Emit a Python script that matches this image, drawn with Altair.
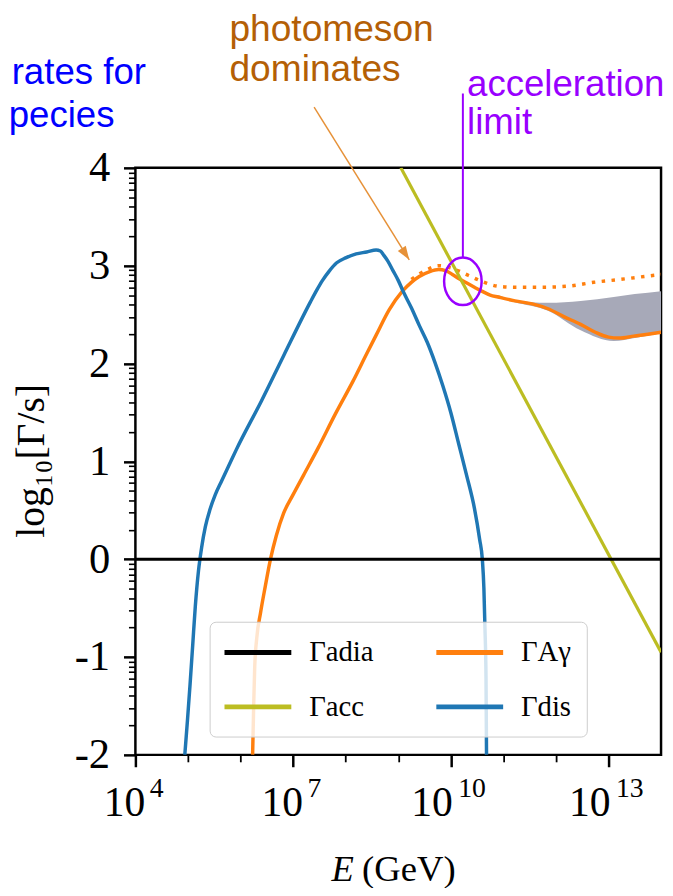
import math
import altair as alt
import pandas as pd

# ---------------- data (log10 E [GeV], log10 Gamma [1/s]) ----------------
DIS_LOGE = [4.94, 4.99, 5.04, 5.09, 5.14, 5.20, 5.26, 5.33, 5.42, 5.52, 5.64, 5.78, 5.92, 6.40,
            6.82, 7.33, 7.45, 7.56, 7.68, 7.83, 8.00, 8.20, 8.40, 8.58, 8.66, 8.72, 8.80, 8.90,
            9.00, 9.10, 9.25, 9.40, 9.55, 9.70, 9.85, 10.00, 10.15, 10.30, 10.45, 10.55, 10.60,
            10.63, 10.65, 10.67, 10.68]
DIS_Y = [-2.0, -1.65, -1.28, -0.88, -0.48, -0.12, 0.12, 0.33, 0.51, 0.66, 0.80, 0.96, 1.12, 1.62,
         2.08, 2.63, 2.75, 2.85, 2.94, 3.03, 3.08, 3.12, 3.14, 3.16, 3.15, 3.11, 3.05, 2.95,
         2.85, 2.73, 2.57, 2.39, 2.22, 2.01, 1.77, 1.50, 1.18, 0.86, 0.52, 0.20, 0.0,
         -0.3, -0.7, -1.2, -2.0]

AG_LOGE = [6.23, 6.25, 6.27, 6.31, 6.38, 6.47, 6.57, 6.68, 6.82, 7.00, 7.20, 7.48, 7.80, 8.14,
           8.40, 8.58, 8.83, 9.08, 9.25, 9.40, 9.60, 9.77, 9.90, 10.03, 10.15, 10.28, 10.45,
           10.59, 10.75, 10.90, 11.22, 11.55, 11.85, 12.15, 12.47, 12.75, 13.00, 13.20, 13.48,
           13.75, 14.0]
AG_Y = [-2.0, -1.5, -1.1, -0.8, -0.55, -0.28, 0.0, 0.24, 0.47, 0.66, 0.86, 1.14, 1.48, 1.82,
        2.10, 2.29, 2.55, 2.74, 2.83, 2.89, 2.94, 2.96, 2.95, 2.91, 2.87, 2.83, 2.78,
        2.74, 2.70, 2.68, 2.64, 2.61, 2.56, 2.48, 2.40, 2.32, 2.27, 2.26, 2.28,
        2.30, 2.32]

AG_DOT_LOGE = [9.25, 9.55, 9.77, 10.09, 10.34, 10.59, 10.90, 11.22, 11.72, 12.22, 12.72, 13.23,
               13.84, 14.0]
AG_DOT_Y = [2.86, 2.96, 3.00, 2.96, 2.90, 2.84, 2.79, 2.78, 2.78, 2.79, 2.83, 2.86, 2.90, 2.91]

BAND_LOGE = [10.90, 11.20, 11.85, 12.47, 13.10, 13.50, 14.0]
BAND_LO = [2.68, 2.63, 2.54, 2.34, 2.23, 2.26, 2.31]
BAND_HI = [2.70, 2.65, 2.62, 2.64, 2.68, 2.71, 2.74]

ACC_LOGE = [9.05, 14.0]
ACC_Y = [4.0, -0.95]

ADIA_LOGE = [4.0, 14.0]
ADIA_Y = [0.0, 0.0]

# legend fills column by column: (adia, acc) | (A-gamma, dis)
SERIES = ["Γadia", "Γacc", "ΓAγ", "Γdis"]
COLORS = ["#000000", "#bcbd22", "#ff7f0e", "#1f77b4"]

X_TICKS = list(range(4, 14))
X_MAJOR = [4, 7, 10, 13]
X_EXPONENTS = ["4", "7", "10", "13"]
Y_LABELS = {4: "4", 3: "3", 2: "2", 1: "1", 0: "0", -1: "-1", -2: "-2"}
Y_TICKS = list(Y_LABELS.keys()) + [n + math.log10(k) for n in range(-2, 4) for k in range(2, 10)]

# annotation (arrow / marker) positions in data coordinates
ARROW = {"logE": [7.40], "y": [4.62], "logE2": [9.21], "y2": [3.06]}
ARROW_TIP = {"logE": [9.21], "y": [3.06]}
ACC_MARK = {"logE": [10.23], "y": [2.84]}
ACC_LINE = {"logE": [10.23], "y": [4.76], "y2": [3.08]}

# ---------------- build tables ----------------
rows = []
for name, xs, ys in [("Γadia", ADIA_LOGE, ADIA_Y), ("ΓAγ", AG_LOGE, AG_Y),
                     ("Γacc", ACC_LOGE, ACC_Y), ("Γdis", DIS_LOGE, DIS_Y)]:
    for i, (x, y) in enumerate(zip(xs, ys)):
        rows.append({"series": name, "logE": x, "y": y, "i": i})
lines_df = pd.DataFrame(rows)
dot_df = pd.DataFrame({"logE": AG_DOT_LOGE, "y": AG_DOT_Y})
band_df = pd.DataFrame({"logE": BAND_LOGE, "lo": BAND_LO, "hi": BAND_HI})
exp_df = pd.DataFrame({"logE": X_MAJOR, "exp": X_EXPONENTS})

SERIF = "Liberation Serif"
SANS = "Liberation Sans"

y_label_expr = " : ".join(f"datum.value === {k} ? '{v}'" for k, v in Y_LABELS.items()) + " : ''"
x_major_test = "(datum.value - 4) % 3 === 0"

x_scale = alt.Scale(domain=[4, 14], nice=False, zero=False)
y_scale = alt.Scale(domain=[-2, 4], nice=False, zero=False)

x_axis = alt.Axis(
    values=X_TICKS, labelExpr=f"{x_major_test} ? '10' : ''", title=None, grid=False,
    domain=False,
    tickSize={"condition": {"test": x_major_test, "value": 12}, "value": 7},
    tickWidth={"condition": {"test": x_major_test, "value": 2.5}, "value": 1.8},
    labelAlign="right",
    labelOffset={"condition": {"test": "datum.value >= 10", "value": 1.5}, "value": 9.5},
    tickColor="black", labelColor="black", labelFont=SERIF, labelFontSize=42,
    labelPadding=16, labelOverlap=False, labelFlush=False, labelBound=False,
)
y_axis = alt.Axis(
    values=Y_TICKS, labelExpr=y_label_expr, title=None, grid=False, domain=False,
    tickSize={"condition": {"test": "datum.value === round(datum.value)", "value": 12}, "value": 7},
    tickWidth={"condition": {"test": "datum.value === round(datum.value)", "value": 2.5}, "value": 1.6},
    tickColor="black", labelColor="black", labelFont=SERIF, labelFontSize=43,
    labelPadding=14, labelOverlap=False, labelBound=False,
)

X = alt.X("logE:Q", scale=x_scale, axis=x_axis)
Y = alt.Y("y:Q", scale=y_scale, axis=y_axis)

LEG_PATH = "M-1,0H4"
color = alt.Color(
    "series:N",
    scale=alt.Scale(domain=SERIES, range=COLORS),
    legend=alt.Legend(
        orient="none", legendX=75, legendY=458.5, columns=2, title=None,
        symbolType=LEG_PATH, symbolSize=729, symbolStrokeWidth=5, symbolOffset=-2.5,
        labelOffset=56, labelFont=SERIF, labelFontSize=29, labelColor="black", labelLimit=0,
        rowPadding=24, columnPadding=53, padding=15,
        fillColor="rgba(255,255,255,0.8)", strokeColor="#cccccc", cornerRadius=6,
    ),
    sort=SERIES,
)

band = alt.Chart(band_df).mark_area(
    color="#a7a9b8", opacity=1, clip=True, interpolate="monotone"
).encode(x=X, y=alt.Y("lo:Q", scale=y_scale, axis=y_axis), y2="hi:Q")
dotted = alt.Chart(dot_df).mark_line(
    color="#ff7f0e", strokeWidth=3.5, strokeDash=[3.5, 6.5], clip=True, interpolate="monotone"
).encode(x=X, y=Y)


def series_layer(name, width):
    return alt.Chart(lines_df).transform_filter(
        alt.datum.series == name
    ).mark_line(strokeWidth=width, clip=True, interpolate="monotone").encode(
        x=X, y=Y, color=color, order="i:Q"
    )


l_ag = series_layer("ΓAγ", 3.5)
l_dis = series_layer("Γdis", 3.5)
l_acc = series_layer("Γacc", 3.2)
l_adia = series_layer("Γadia", 3.0)

# x tick-label exponents (superscripts of the "10" labels)
exponents = alt.Chart(exp_df).mark_text(
    align="center", baseline="alphabetic", font=SERIF, fontSize=28, color="black", dx=21.5
).encode(x=X, y=alt.value(636), text="exp:N")

# annotations
arrow = alt.Chart(pd.DataFrame(ARROW)).mark_rule(color="#e69138", strokeWidth=1.5).encode(
    x=X, y=Y, x2="logE2:Q", y2="y2:Q"
)
arrow_tip = alt.Chart(pd.DataFrame(ARROW_TIP)).mark_point(
    shape="M0,0L-0.55,1.6L0.55,1.6Z", angle=147, size=300, filled=True,
    color="#e69138", opacity=1
).encode(x=X, y=Y)
acc_ellipse = alt.Chart(pd.DataFrame(ACC_MARK)).mark_point(
    shape="M-0.79,0A0.79,1 0 1,0 0.79,0A0.79,1 0 1,0 -0.79,0Z", size=2304,
    filled=False, color="#9900ff", strokeWidth=2.5, opacity=1
).encode(x=X, y=Y)
acc_line = alt.Chart(pd.DataFrame(ACC_LINE)).mark_rule(color="#9900ff", strokeWidth=2).encode(
    x=X, y=Y, y2="y2:Q"
)


def text_layer(txt, x, y, color_, font, size, align="left", angle=0, style="normal",
               baseline="alphabetic"):
    return alt.Chart(pd.DataFrame({"t": [txt]})).mark_text(
        align=align, baseline=baseline, font=font, fontSize=size, color=color_,
        angle=angle, fontStyle=style
    ).encode(x=alt.value(x), y=alt.value(y), text="t:N")


texts = [
    text_layer("photomeson", 95, -128, "#b45f06", SANS, 37.5),
    text_layer("dominates", 95, -88, "#b45f06", SANS, 37.5),
    text_layer("acceleration", 335, -73, "#9900ff", SANS, 37),
    text_layer("limit", 335, -34, "#9900ff", SANS, 37),
    text_layer("rates for", -125, -85, "#0000ff", SANS, 37),
    text_layer("pecies", -128, -41, "#0000ff", SANS, 37),
    text_layer("E", 198, 720, "black", SERIF, 37, style="italic"),
    text_layer("(GeV)", 229, 720, "black", SERIF, 37),
    text_layer("log₁₀[Γ/s]", -104, 296, "black", SERIF, 40, align="center", angle=270,
               baseline="middle"),
]

chart = alt.layer(
    band, dotted, l_ag, l_dis, l_acc, l_adia, exponents, arrow, arrow_tip, acc_line,
    acc_ellipse, *texts
).properties(
    width=531, height=593,
    padding={"left": 128.7, "top": 157, "right": 4, "bottom": 130},
    autosize=alt.AutoSizeParams(type="none"),
    background="white",
).configure_view(stroke="black", strokeWidth=2.5)

chart.save("out.html", embed_options={"renderer": "svg", "actions": False})
